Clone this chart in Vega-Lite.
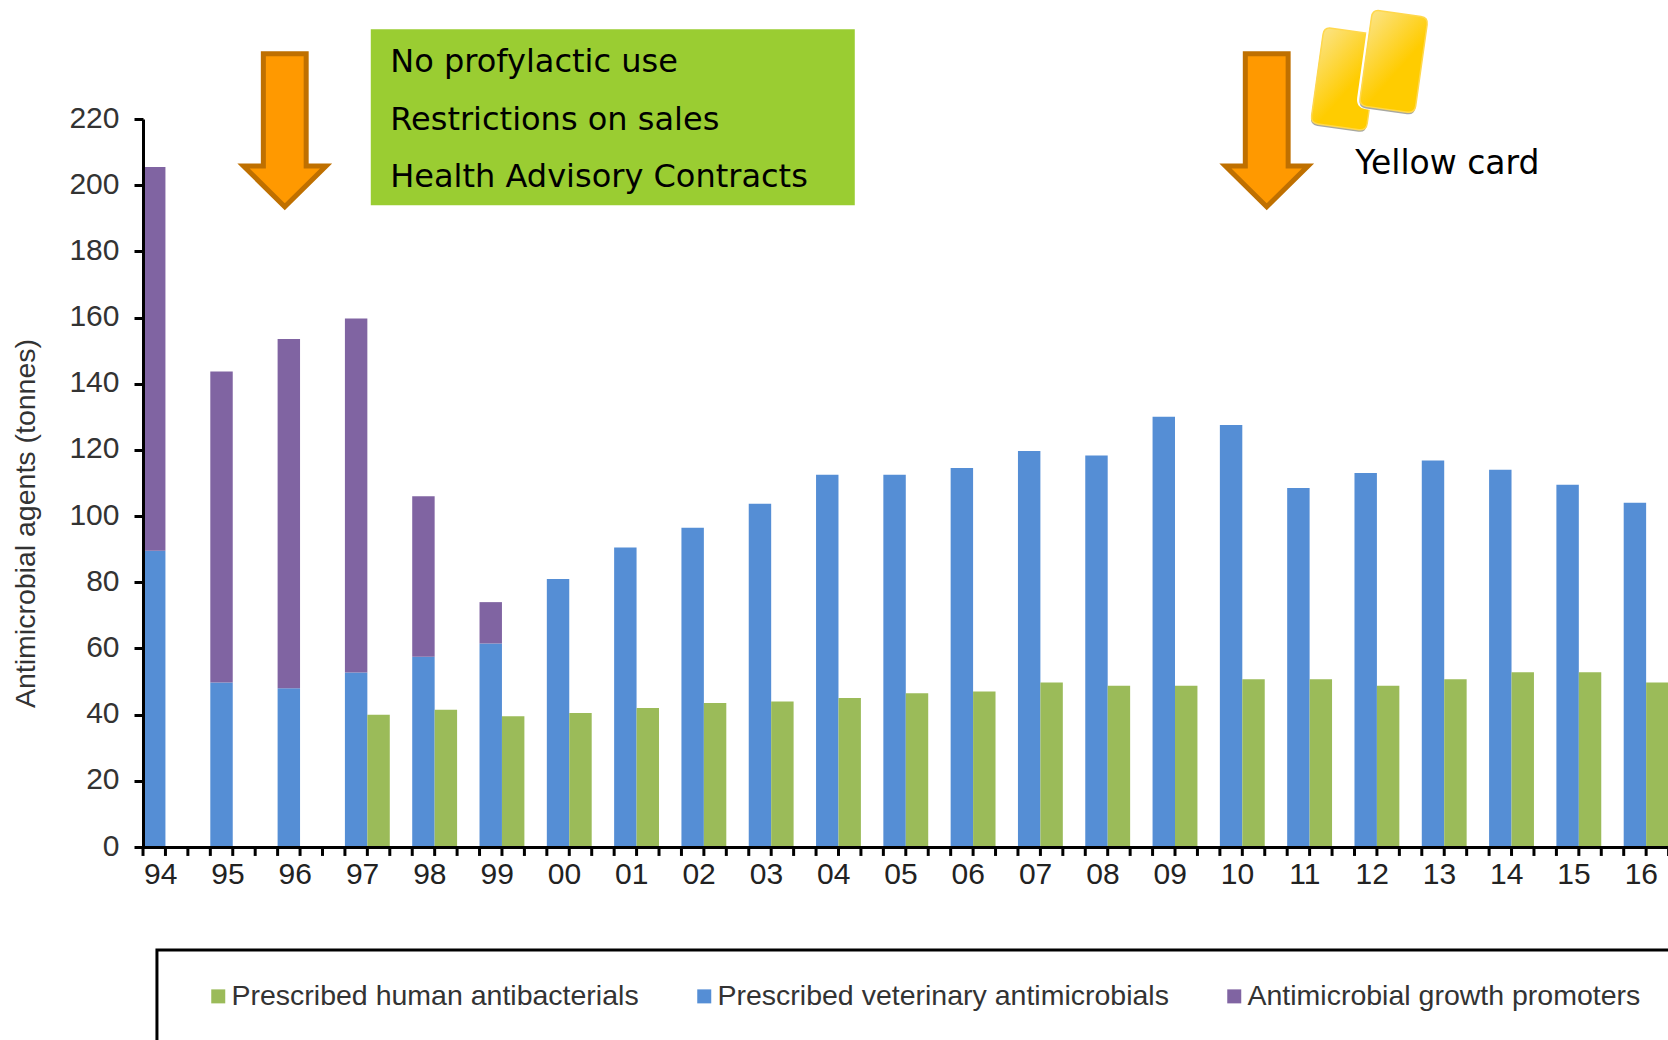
{
"$schema":"https://vega.github.io/schema/vega-lite/v6.json",
"width":1525,"height":728,
"autosize":{"type":"none"},
"padding":{"left":143,"top":119,"right":0,"bottom":193},
"background":"white",
"config":{"view":{"stroke":null}},
"resolve":{"scale":{"xOffset":"independent"}},
"datasets":{
"bars":[
{"year":"94","series":"Prescribed veterinary antimicrobials","slot":"vet","value":89.5},
{"year":"94","series":"Antimicrobial growth promoters","slot":"vet","value":116},
{"year":"95","series":"Prescribed veterinary antimicrobials","slot":"vet","value":49.7},
{"year":"95","series":"Antimicrobial growth promoters","slot":"vet","value":94},
{"year":"96","series":"Prescribed veterinary antimicrobials","slot":"vet","value":48},
{"year":"96","series":"Antimicrobial growth promoters","slot":"vet","value":105.5},
{"year":"97","series":"Prescribed veterinary antimicrobials","slot":"vet","value":52.7},
{"year":"97","series":"Antimicrobial growth promoters","slot":"vet","value":107},
{"year":"97","series":"Prescribed human antibacterials","slot":"human","value":40},
{"year":"98","series":"Prescribed veterinary antimicrobials","slot":"vet","value":57.5},
{"year":"98","series":"Antimicrobial growth promoters","slot":"vet","value":48.5},
{"year":"98","series":"Prescribed human antibacterials","slot":"human","value":41.5},
{"year":"99","series":"Prescribed veterinary antimicrobials","slot":"vet","value":61.5},
{"year":"99","series":"Antimicrobial growth promoters","slot":"vet","value":12.5},
{"year":"99","series":"Prescribed human antibacterials","slot":"human","value":39.5},
{"year":"00","series":"Prescribed veterinary antimicrobials","slot":"vet","value":81},
{"year":"00","series":"Prescribed human antibacterials","slot":"human","value":40.5},
{"year":"01","series":"Prescribed veterinary antimicrobials","slot":"vet","value":90.5},
{"year":"01","series":"Prescribed human antibacterials","slot":"human","value":42},
{"year":"02","series":"Prescribed veterinary antimicrobials","slot":"vet","value":96.5},
{"year":"02","series":"Prescribed human antibacterials","slot":"human","value":43.5},
{"year":"03","series":"Prescribed veterinary antimicrobials","slot":"vet","value":103.7},
{"year":"03","series":"Prescribed human antibacterials","slot":"human","value":44},
{"year":"04","series":"Prescribed veterinary antimicrobials","slot":"vet","value":112.5},
{"year":"04","series":"Prescribed human antibacterials","slot":"human","value":45},
{"year":"05","series":"Prescribed veterinary antimicrobials","slot":"vet","value":112.5},
{"year":"05","series":"Prescribed human antibacterials","slot":"human","value":46.5},
{"year":"06","series":"Prescribed veterinary antimicrobials","slot":"vet","value":114.5},
{"year":"06","series":"Prescribed human antibacterials","slot":"human","value":47},
{"year":"07","series":"Prescribed veterinary antimicrobials","slot":"vet","value":119.7},
{"year":"07","series":"Prescribed human antibacterials","slot":"human","value":49.7},
{"year":"08","series":"Prescribed veterinary antimicrobials","slot":"vet","value":118.3},
{"year":"08","series":"Prescribed human antibacterials","slot":"human","value":48.7},
{"year":"09","series":"Prescribed veterinary antimicrobials","slot":"vet","value":130},
{"year":"09","series":"Prescribed human antibacterials","slot":"human","value":48.7},
{"year":"10","series":"Prescribed veterinary antimicrobials","slot":"vet","value":127.5},
{"year":"10","series":"Prescribed human antibacterials","slot":"human","value":50.7},
{"year":"11","series":"Prescribed veterinary antimicrobials","slot":"vet","value":108.5},
{"year":"11","series":"Prescribed human antibacterials","slot":"human","value":50.7},
{"year":"12","series":"Prescribed veterinary antimicrobials","slot":"vet","value":113},
{"year":"12","series":"Prescribed human antibacterials","slot":"human","value":48.7},
{"year":"13","series":"Prescribed veterinary antimicrobials","slot":"vet","value":116.8},
{"year":"13","series":"Prescribed human antibacterials","slot":"human","value":50.7},
{"year":"14","series":"Prescribed veterinary antimicrobials","slot":"vet","value":114},
{"year":"14","series":"Prescribed human antibacterials","slot":"human","value":52.8},
{"year":"15","series":"Prescribed veterinary antimicrobials","slot":"vet","value":109.5},
{"year":"15","series":"Prescribed human antibacterials","slot":"human","value":52.8},
{"year":"16","series":"Prescribed veterinary antimicrobials","slot":"vet","value":104},
{"year":"16","series":"Prescribed human antibacterials","slot":"human","value":49.7}
],
"tickrows":[
{"year":"94","slot":"vet","level":0,"tip":-2.7},{"year":"94","slot":"human","level":0,"tip":-2.7},{"year":"94","slot":"none","level":0,"tip":-2.7},
{"year":"95","slot":"vet","level":0,"tip":-2.7},{"year":"95","slot":"human","level":0,"tip":-2.7},{"year":"95","slot":"none","level":0,"tip":-2.7},
{"year":"96","slot":"vet","level":0,"tip":-2.7},{"year":"96","slot":"human","level":0,"tip":-2.7},{"year":"96","slot":"none","level":0,"tip":-2.7},
{"year":"97","slot":"vet","level":0,"tip":-2.7},{"year":"97","slot":"human","level":0,"tip":-2.7},{"year":"97","slot":"none","level":0,"tip":-2.7},
{"year":"98","slot":"vet","level":0,"tip":-2.7},{"year":"98","slot":"human","level":0,"tip":-2.7},{"year":"98","slot":"none","level":0,"tip":-2.7},
{"year":"99","slot":"vet","level":0,"tip":-2.7},{"year":"99","slot":"human","level":0,"tip":-2.7},{"year":"99","slot":"none","level":0,"tip":-2.7},
{"year":"00","slot":"vet","level":0,"tip":-2.7},{"year":"00","slot":"human","level":0,"tip":-2.7},{"year":"00","slot":"none","level":0,"tip":-2.7},
{"year":"01","slot":"vet","level":0,"tip":-2.7},{"year":"01","slot":"human","level":0,"tip":-2.7},{"year":"01","slot":"none","level":0,"tip":-2.7},
{"year":"02","slot":"vet","level":0,"tip":-2.7},{"year":"02","slot":"human","level":0,"tip":-2.7},{"year":"02","slot":"none","level":0,"tip":-2.7},
{"year":"03","slot":"vet","level":0,"tip":-2.7},{"year":"03","slot":"human","level":0,"tip":-2.7},{"year":"03","slot":"none","level":0,"tip":-2.7},
{"year":"04","slot":"vet","level":0,"tip":-2.7},{"year":"04","slot":"human","level":0,"tip":-2.7},{"year":"04","slot":"none","level":0,"tip":-2.7},
{"year":"05","slot":"vet","level":0,"tip":-2.7},{"year":"05","slot":"human","level":0,"tip":-2.7},{"year":"05","slot":"none","level":0,"tip":-2.7},
{"year":"06","slot":"vet","level":0,"tip":-2.7},{"year":"06","slot":"human","level":0,"tip":-2.7},{"year":"06","slot":"none","level":0,"tip":-2.7},
{"year":"07","slot":"vet","level":0,"tip":-2.7},{"year":"07","slot":"human","level":0,"tip":-2.7},{"year":"07","slot":"none","level":0,"tip":-2.7},
{"year":"08","slot":"vet","level":0,"tip":-2.7},{"year":"08","slot":"human","level":0,"tip":-2.7},{"year":"08","slot":"none","level":0,"tip":-2.7},
{"year":"09","slot":"vet","level":0,"tip":-2.7},{"year":"09","slot":"human","level":0,"tip":-2.7},{"year":"09","slot":"none","level":0,"tip":-2.7},
{"year":"10","slot":"vet","level":0,"tip":-2.7},{"year":"10","slot":"human","level":0,"tip":-2.7},{"year":"10","slot":"none","level":0,"tip":-2.7},
{"year":"11","slot":"vet","level":0,"tip":-2.7},{"year":"11","slot":"human","level":0,"tip":-2.7},{"year":"11","slot":"none","level":0,"tip":-2.7},
{"year":"12","slot":"vet","level":0,"tip":-2.7},{"year":"12","slot":"human","level":0,"tip":-2.7},{"year":"12","slot":"none","level":0,"tip":-2.7},
{"year":"13","slot":"vet","level":0,"tip":-2.7},{"year":"13","slot":"human","level":0,"tip":-2.7},{"year":"13","slot":"none","level":0,"tip":-2.7},
{"year":"14","slot":"vet","level":0,"tip":-2.7},{"year":"14","slot":"human","level":0,"tip":-2.7},{"year":"14","slot":"none","level":0,"tip":-2.7},
{"year":"15","slot":"vet","level":0,"tip":-2.7},{"year":"15","slot":"human","level":0,"tip":-2.7},{"year":"15","slot":"none","level":0,"tip":-2.7},
{"year":"16","slot":"vet","level":0,"tip":-2.7},{"year":"16","slot":"human","level":0,"tip":-2.7},{"year":"16","slot":"none","level":0,"tip":-2.7}
]
},
"encoding":{
"x":{"field":"year","type":"nominal","sort":null,
"scale":{"domain":["94","95","96","97","98","99","00","01","02","03","04","05","06","07","08","09","10","11","12","13","14","15","16"],"range":[0,1548],"paddingInner":0,"paddingOuter":0},
"axis":{"title":null,"labelAngle":0,"ticks":false,"domainColor":"black","domainWidth":3,"labelFont":"Liberation Sans","labelFontSize":30,"labelColor":"#222222","labelOffset":-16,"labelPadding":12,"zindex":1}},
"y":{"field":"level","type":"quantitative","scale":{"domain":[0,220],"nice":false,"zero":false},
"axis":{"title":"Antimicrobial agents (tonnes)","titleX":-103,"titleY":404,"titleFont":"Liberation Sans","titleFontSize":28.5,"titleFontWeight":"normal","titleColor":"#333333","values":[0,20,40,60,80,100,120,140,160,180,200,220],"grid":false,"domainColor":"black","domainWidth":3,"tickColor":"black","tickWidth":3,"tickSize":9,"labelFont":"Liberation Sans","labelFontSize":30,"labelColor":"#333333","labelPadding":15,"labelOffset":-1,"zindex":1}}
},
"layer":[
{"data":{"values":[{"year":"94","level":-31.1}]},
"mark":{"type":"point","filled":false,"opacity":1,"fill":null,"stroke":"black","strokeWidth":3,"size":10000,"xOffset":-19.7,"shape":"M0,3L0,0L32,0L32,3Z"}},
{"data":{"name":"bars"},"mark":{"type":"bar"},
"encoding":{
"xOffset":{"field":"slot","type":"nominal","scale":{"domain":["vet","human","none"],"paddingInner":0,"paddingOuter":0}},
"y":{"field":"value","type":"quantitative","stack":"zero","scale":{"domain":[0,220],"nice":false,"zero":false}},
"order":{"field":"series","sort":"descending"},
"color":{"field":"series","type":"nominal",
"scale":{"domain":["Prescribed human antibacterials","Prescribed veterinary antimicrobials","Antimicrobial growth promoters"],"range":["#9BBB59","#558ED5","#8064A2"]},
"legend":{"title":null,"orient":"none","legendX":61,"legendY":863,"direction":"horizontal","columns":3,"padding":0,"symbolType":"square","symbolSize":196,"symbolStrokeWidth":0,"labelFont":"Liberation Sans","labelFontSize":28.5,"labelColor":"#333333","labelOffset":-1,"labelLimit":600,"columnPadding":51}}
}},
{"data":{"name":"tickrows"},
"mark":{"type":"rule","color":"black","strokeWidth":3},
"encoding":{
"xOffset":{"field":"slot","type":"nominal","scale":{"domain":["vet","human","none"],"range":[-11.2,56.1],"paddingInner":0,"paddingOuter":0}},
"y":{"field":"level","type":"quantitative"},"y2":{"field":"tip"}
}},
{"data":{"values":[{"year":"01","level":220.5}]},
"mark":{"type":"point","filled":true,"opacity":1,"fill":"#9ACD32","size":40000,"shape":"M-2.42,-0.88L2.42,-0.88L2.42,0.88L-2.42,0.88Z","xOffset":-35}},
{"data":{"values":[{"year":"96","level":216.6}]},
"mark":{"type":"point","filled":true,"opacity":1,"fill":"#FF9900","stroke":"#BF7000","strokeWidth":5,"size":23400,"xOffset":-26.5,"shape":"M-0.28,-1L0.28,-1L0.28,0.467L0.54,0.467L0,1L-0.54,0.467L-0.28,0.467Z"}},
{"data":{"values":[{"year":"10","level":216.6}]},
"mark":{"type":"point","filled":true,"opacity":1,"fill":"#FF9900","stroke":"#BF7000","strokeWidth":5,"size":23400,"xOffset":13.2,"shape":"M-0.28,-1L0.28,-1L0.28,0.467L0.54,0.467L0,1L-0.54,0.467L-0.28,0.467Z"}},
{"data":{"values":[{"year":"12","level":232.1}]},
"mark":{"type":"point","filled":true,"opacity":1,"fill":"#A8A8A0","size":10800,"xOffset":-43.5,"yOffset":2,
"shape":"M-0.2668,-0.9764L0.5252,-0.8652Q0.6638,-0.8458 0.6444,-0.7072L0.4248,0.8572Q0.4054,0.9958 0.2668,0.9764L-0.5252,0.8652Q-0.6638,0.8458 -0.6444,0.7072L-0.4248,-0.8572Q-0.4054,-0.9958 -0.2668,-0.9764Z"}},
{"data":{"values":[{"year":"12","level":232.1}]},
"mark":{"type":"point","filled":true,"opacity":1,"stroke":"#FFD84D","strokeWidth":1.5,"size":10800,"xOffset":-43,"fill":{"gradient":"linear","x1":0.1,"y1":0,"x2":0.7,"y2":0.8,"stops":[{"offset":0,"color":"#FBE58E"},{"offset":0.75,"color":"#FFCC00"},{"offset":1,"color":"#FFCC00"}]},
"shape":"M-0.2668,-0.9764L0.5252,-0.8652Q0.6638,-0.8458 0.6444,-0.7072L0.4248,0.8572Q0.4054,0.9958 0.2668,0.9764L-0.5252,0.8652Q-0.6638,0.8458 -0.6444,0.7072L-0.4248,-0.8572Q-0.4054,-0.9958 -0.2668,-0.9764Z"}},
{"data":{"values":[{"year":"12","level":237.4}]},
"mark":{"type":"point","filled":true,"opacity":1,"fill":"white","stroke":"white","strokeWidth":6,"size":10800,"xOffset":5.5,
"shape":"M-0.2668,-0.9764L0.5252,-0.8652Q0.6638,-0.8458 0.6444,-0.7072L0.4248,0.8572Q0.4054,0.9958 0.2668,0.9764L-0.5252,0.8652Q-0.6638,0.8458 -0.6444,0.7072L-0.4248,-0.8572Q-0.4054,-0.9958 -0.2668,-0.9764Z"}},
{"data":{"values":[{"year":"12","level":237.4}]},
"mark":{"type":"point","filled":true,"opacity":1,"fill":"#A8A8A0","size":10800,"xOffset":5,"yOffset":2,
"shape":"M-0.2668,-0.9764L0.5252,-0.8652Q0.6638,-0.8458 0.6444,-0.7072L0.4248,0.8572Q0.4054,0.9958 0.2668,0.9764L-0.5252,0.8652Q-0.6638,0.8458 -0.6444,0.7072L-0.4248,-0.8572Q-0.4054,-0.9958 -0.2668,-0.9764Z"}},
{"data":{"values":[{"year":"12","level":237.4}]},
"mark":{"type":"point","filled":true,"opacity":1,"stroke":"#FFD84D","strokeWidth":1.5,"size":10800,"xOffset":5.5,"fill":{"gradient":"linear","x1":0.1,"y1":0,"x2":0.7,"y2":0.8,"stops":[{"offset":0,"color":"#FBE58E"},{"offset":0.75,"color":"#FFCC00"},{"offset":1,"color":"#FFCC00"}]},
"shape":"M-0.2668,-0.9764L0.5252,-0.8652Q0.6638,-0.8458 0.6444,-0.7072L0.4248,0.8572Q0.4054,0.9958 0.2668,0.9764L-0.5252,0.8652Q-0.6638,0.8458 -0.6444,0.7072L-0.4248,-0.8572Q-0.4054,-0.9958 -0.2668,-0.9764Z"}},
{"data":{"values":[
{"year":"97","level":237.2,"note":"No profylactic use"},
{"year":"97","level":219.6,"note":"Restrictions on sales"},
{"year":"97","level":202.5,"note":"Health Advisory Contracts"}]},
"mark":{"type":"text","align":"left","baseline":"middle","dx":11.7,"font":"DejaVu Sans","fontSize":32,"color":"black"},
"encoding":{"text":{"field":"note"}}},
{"data":{"values":[{"year":"12","level":206.4,"note":"Yellow card"}]},
"mark":{"type":"text","align":"left","baseline":"middle","dx":-33,"font":"DejaVu Sans","fontSize":33,"color":"black"},
"encoding":{"text":{"field":"note"}}}
]
}
